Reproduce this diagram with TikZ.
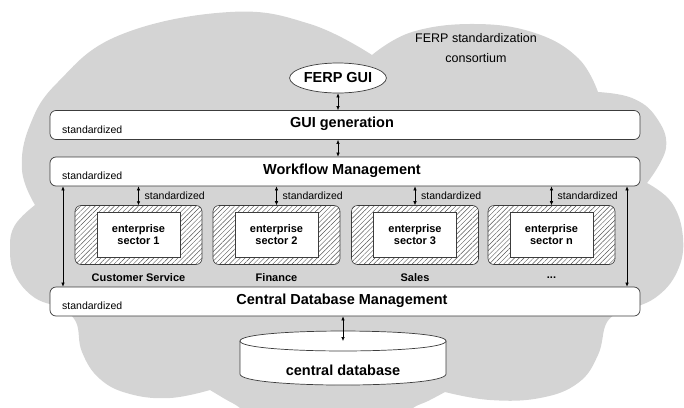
\documentclass[tikz,border=0pt]{standalone}
\usepackage{fontspec}
\setmainfont{Liberation Sans}
\usetikzlibrary{arrows.meta,patterns.meta,shapes.geometric}
\definecolor{cloudgray}{RGB}{212,212,212}
\definecolor{edgegray}{RGB}{60,60,60}
\definecolor{hatchgray}{RGB}{85,85,85}
\newcommand{\secdots}{...}
\begin{document}
\begin{tikzpicture}[x=1pt,y=-1pt,
  bar/.style={draw=edgegray,fill=white,rounded corners=6pt,line width=0.7pt,minimum width=590pt,minimum height=29pt,inner sep=0pt},
  bartitle/.style={font=\fontsize{14.5}{17}\selectfont\bfseries,inner sep=0pt},
  stdtext/.style={font=\fontsize{10.5}{12}\selectfont,inner sep=0pt,anchor=west},
  hatchbox/.style={draw=edgegray,line width=0.6pt,rounded corners=6pt,minimum width=127pt,minimum height=59pt,
     preaction={fill=white},pattern={Lines[angle=45,distance=3.4pt,line width=0.45pt]},pattern color=hatchgray},
  innerbox/.style={draw=edgegray,fill=white,line width=0.6pt,minimum width=83pt,minimum height=45pt,inner sep=0pt,
     align=center,font=\fontsize{11}{12.5}\selectfont\bfseries},
  seclabel/.style={font=\fontsize{11}{13}\selectfont\bfseries,inner sep=0pt},
  dbl/.style={line width=0.6pt,{Latex[length=4pt,width=3.5pt]}-{Latex[length=4pt,width=3.5pt]}}
]
\useasboundingbox (0,0) rectangle (684,407);
\clip (0,0) rectangle (684,407);
% cloud
\fill[cloudgray]
  plot[smooth,tension=0.7] coordinates {(35,205) (22,170) (30,125) (58,82) (120,35) (230,12) (310,24) (372,55)}
  -- plot[smooth,tension=0.7] coordinates {(372,55) (412,32) (475,24) (535,33) (578,58) (598,92)}
  -- plot[smooth,tension=0.7] coordinates {(598,92) (632,98) (656,117) (666,148) (647,183)}
  -- plot[smooth,tension=0.7] coordinates {(647,183) (672,203) (683,238) (677,272) (655,298) (625,310)}
  -- plot[smooth,tension=0.7] coordinates {(625,310) (607,322) (598,355) (578,383) (540,398) (490,400) (445,392)}
  -- plot[smooth,tension=0.7] coordinates {(445,392) (428,401) (413,408) (402,420)}
  -- plot[smooth,tension=0.7] coordinates {(250,420) (240,408) (225,399) (210,390)}
  -- plot[smooth,tension=0.7] coordinates {(210,390) (170,398) (130,394) (100,379) (82,352) (76,322) (60,306)}
  -- plot[smooth,tension=0.7] coordinates {(60,306) (35,298) (15,275) (10,248) (15,225) (35,205)}
  -- cycle;
% top text
\node[font=\fontsize{12.5}{20}\selectfont,align=center,inner sep=0pt] (cons) at (476,48) {FERP standardization\\consortium};
% FERP GUI
\node[ellipse,draw=edgegray,fill=white,line width=0.7pt,minimum width=90pt,minimum height=30pt,inner sep=0pt,
  font=\fontsize{14.5}{17}\selectfont\bfseries] (ferp) at (338,78) {FERP GUI};
% bars
\node[bar] (gui) at (345,125) {};
\node[bartitle] (guit) at (342,124) {GUI generation};
\node[stdtext] (guis) at (62,130) {standardized};
\node[bar] (wf) at (345,171.5) {};
\node[bartitle] (wft) at (342,170.5) {Workflow Management};
\node[stdtext] (wfs) at (62,176) {standardized};
\node[bar] (db) at (345,301.5) {};
\node[bartitle] (dbt) at (342,300.5) {Central Database Management};
\node[stdtext] (dbs) at (62,306) {standardized};
% arrows between top elements
\draw[dbl] (ferp.south) -- (ferp.south |- gui.north);
\draw[dbl] (gui.south -| ferp) -- (wf.north -| ferp);
% long side arrows
\coordinate (lx) at (63,0);
\coordinate (rx) at (627,0);
\draw[dbl] (wf.south -| lx) -- (db.north -| lx);
\draw[dbl] (wf.south -| rx) -- (db.north -| rx);
% sectors
\foreach \i/\cx/\lab/\sec in {1/138.5/Customer Service/1, 2/276.5/Finance/2, 3/415/Sales/3, 4/551.5/\secdots/n}{
  \node[hatchbox] (s\i) at (\cx,235) {};
  \node[innerbox] (in\i) at (\cx,234.5) {enterprise\\sector \sec};
  \node[seclabel] (l\i) at (\cx,278) {\lab};
  \draw[dbl] (s\i.north) -- (s\i.north |- wf.south);
  \node[stdtext] (st\i) at (\cx+6,195.5) {standardized};
}
% database cylinder
\coordinate (cyltop) at (343,341);
\fill[white] (240,341) -- (240,374) .. controls (240,388.7) and (446,388.7) .. (446,374) -- (446,341) -- cycle;
\draw[edgegray,line width=0.7pt] (240,341) -- (240,374) .. controls (240,388.7) and (446,388.7) .. (446,374) -- (446,341);
\draw[edgegray,fill=white,line width=0.7pt] (240,341) .. controls (240,327.7) and (446,327.7) .. (446,341) .. controls (446,354.3) and (240,354.3) .. (240,341);
\node[bartitle] (cdb) at (343,370) {central database};
\draw[dbl] (db.south -| cyltop) -- (cyltop);
\end{tikzpicture}
\end{document}
